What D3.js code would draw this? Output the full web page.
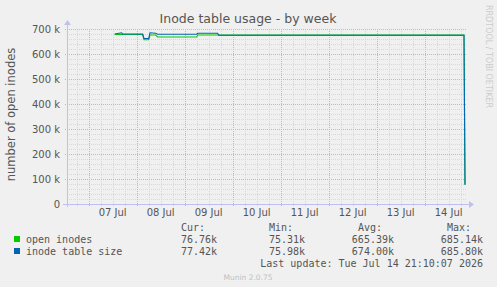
<!DOCTYPE html>
<html>
<head>
<meta charset="utf-8">
<script src="https://cdn.jsdelivr.net/npm/d3@7"></script>
<style>
  body { margin: 0; background: #f0f0f0; }
  svg { display: block; }
</style>
</head>
<body>
<div id="chart"></div>
<script>
// data (times in UTC, values in inodes)
var startTime = "2026-07-06T13:10:00Z", endTime = "2026-07-14T21:10:00Z";
var times = ["2026-07-07T13:00:00Z", "2026-07-07T16:30:00Z", "2026-07-07T17:00:00Z", "2026-07-08T03:00:00Z",
  "2026-07-08T03:40:00Z", "2026-07-08T06:00:00Z", "2026-07-08T06:40:00Z", "2026-07-08T09:30:00Z", "2026-07-08T10:30:00Z",
  "2026-07-09T06:00:00Z", "2026-07-09T06:30:00Z", "2026-07-09T16:30:00Z", "2026-07-09T17:00:00Z",
  "2026-07-14T19:40:00Z", "2026-07-14T20:10:00Z"];
var openInodes = [678000, 679000, 678000, 678000, 657000, 657000, 676000, 676000, 668000,
  668000, 676000, 676000, 675600, 675600, 76760];
var tableSize = [680000, 685000, 680000, 680000, 662000, 662000, 685000, 683000, 679000,
  679000, 683000, 683000, 674800, 674800, 77420];
var yTicks = [0, 100000, 200000, 300000, 400000, 500000, 600000, 700000];
var series = [
  { name: "open inodes", color: "#00cc00", values: openInodes, cur: "76.76k", min: "75.31k", avg: "665.39k", max: "685.14k" },
  { name: "inode table size", color: "#0066b3", values: tableSize, cur: "77.42k", min: "75.98k", avg: "674.00k", max: "685.80k" }
];

var width = 497, height = 287;
var margin = { top: 29, right: 30, bottom: 83, left: 67 };
var pw = width - margin.left - margin.right, ph = height - margin.top - margin.bottom;

var svg = d3.select("#chart").append("svg")
    .attr("width", width).attr("height", height)
    .style("font-family", "'DejaVu Sans', sans-serif");
svg.append("rect").attr("width", width).attr("height", height).attr("fill", "#f0f0f0");

var x = d3.scaleUtc().domain([new Date(startTime), new Date(endTime)]).range([margin.left, margin.left + pw]);
var y = d3.scaleLinear().domain([0, 700000]).range([margin.top + ph, margin.top]);

var g = svg.append("g");

// minor grid
var minorY = d3.range(0, 700001, 20000).filter(function (v) { return v % 100000 !== 0; });
g.selectAll(".my").data(minorY).enter().append("line")
    .attr("x1", margin.left).attr("x2", margin.left + pw)
    .attr("y1", function (d) { return Math.round(y(d)) + 0.5; })
    .attr("y2", function (d) { return Math.round(y(d)) + 0.5; })
    .attr("stroke", "#d8d8d8").attr("stroke-dasharray", "1,1");
var sixHours = d3.utcHour.every(6).range(x.domain()[0], x.domain()[1]).filter(function (d) { return d.getUTCHours() !== 0; });
g.selectAll(".mx").data(sixHours).enter().append("line")
    .attr("y1", margin.top).attr("y2", margin.top + ph + 2)
    .attr("x1", function (d) { return Math.round(x(d)) + 0.5; })
    .attr("x2", function (d) { return Math.round(x(d)) + 0.5; })
    .attr("stroke", "#d8d8d8").attr("stroke-dasharray", "1,1");

// major grid
g.selectAll(".My").data(yTicks.slice(1)).enter().append("line")
    .attr("x1", margin.left - 2).attr("x2", margin.left + pw)
    .attr("y1", function (d) { return Math.round(y(d)) + 0.5; })
    .attr("y2", function (d) { return Math.round(y(d)) + 0.5; })
    .attr("stroke", "#e6a8a8").attr("stroke-dasharray", "1,1");
var days = d3.utcDay.range(x.domain()[0], x.domain()[1]);
g.selectAll(".Mx").data(days).enter().append("line")
    .attr("y1", margin.top).attr("y2", margin.top + ph + 3)
    .attr("x1", function (d) { return Math.round(x(d)) + 0.5; })
    .attr("x2", function (d) { return Math.round(x(d)) + 0.5; })
    .attr("stroke", "#e6a8a8").attr("stroke-dasharray", "1,1");

// axes with arrows
var ax = "#c0c0ee";
svg.append("line").attr("x1", margin.left - 4).attr("x2", margin.left + pw + 2)
    .attr("y1", margin.top + ph + 0.5).attr("y2", margin.top + ph + 0.5).attr("stroke", ax);
svg.append("path").attr("d", "M" + (margin.left + pw + 2) + "," + (margin.top + ph - 3) + "l5,3.5l-5,3.5z").attr("fill", ax);
svg.append("line").attr("x1", margin.left + 0.5).attr("x2", margin.left + 0.5)
    .attr("y1", margin.top + ph + 3).attr("y2", margin.top - 4).attr("stroke", ax);
svg.append("path").attr("d", "M" + (margin.left - 3) + "," + (margin.top - 4) + "l3.5,-5l3.5,5z").attr("fill", ax);

// y labels
svg.selectAll(".yl").data(yTicks).enter().append("text")
    .attr("x", margin.left - 7).attr("y", function (d) { return y(d) + 3.5; })
    .attr("text-anchor", "end").attr("font-size", "10px").attr("fill", "#555")
    .text(function (d) { return d === 0 ? "0" : (d / 1000) + " k"; });

// x labels at noon
var noons = days.map(function (d) { return d3.utcHour.offset(d, 12); });
svg.selectAll(".xl").data(noons).enter().append("text")
    .attr("x", function (d) { return x(d); }).attr("y", margin.top + ph + 12)
    .attr("text-anchor", "middle").attr("font-size", "10px").attr("fill", "#555")
    .text(function (d) { return d3.utcFormat("%d %b")(d); });

// lines
var line = d3.line()
    .x(function (d) { return x(d.t); })
    .y(function (d) { return y(d.v); });
series.forEach(function (s) {
    var pts = times.map(function (t, i) { return { t: new Date(t), v: s.values[i] }; });
    svg.append("path").datum(pts).attr("d", line)
        .attr("fill", "none").attr("stroke", s.color).attr("stroke-width", 1.1);
});

// title & labels
svg.append("text").attr("x", 248).attr("y", 23).attr("text-anchor", "middle")
    .attr("font-size", "12.5px").attr("fill", "#555").text("Inode table usage - by week");
svg.append("text").attr("transform", "translate(15," + (margin.top + ph / 2 - 2) + ") rotate(-90)")
    .attr("text-anchor", "middle").attr("font-size", "11.5px").attr("fill", "#555").text("number of open inodes");
svg.append("text").attr("transform", "translate(486,5) rotate(90)")
    .attr("font-size", "8px").attr("fill", "#cccccc").text("RRDTOOL / TOBI OETIKER");

// legend
var mono = "'DejaVu Sans Mono', monospace";
var cols = [{ k: "cur", h: "Cur:", hx: 181, vx: 217 }, { k: "min", h: "Min:", hx: 269, vx: 305 },
            { k: "avg", h: "Avg:", hx: 358, vx: 394 }, { k: "max", h: "Max:", hx: 447, vx: 483 }];
cols.forEach(function (c) {
    svg.append("text").attr("x", c.hx).attr("y", 231).attr("font-family", mono)
        .attr("font-size", "10px").attr("fill", "#555").text(c.h);
});
series.forEach(function (s, i) {
    var yy = 243 + i * 12;
    svg.append("rect").attr("x", 14).attr("y", yy - 7).attr("width", 6).attr("height", 6).attr("fill", s.color);
    svg.append("text").attr("x", 26).attr("y", yy).attr("font-family", mono)
        .attr("font-size", "10px").attr("fill", "#555").text(s.name);
    cols.forEach(function (c) {
        svg.append("text").attr("x", c.vx).attr("y", yy).attr("text-anchor", "end").attr("font-family", mono)
            .attr("font-size", "10px").attr("fill", "#555").text(s[c.k]);
    });
});
svg.append("text").attr("x", 483).attr("y", 267).attr("text-anchor", "end").attr("font-family", mono)
    .attr("font-size", "10px").attr("fill", "#555").text("Last update: Tue Jul 14 21:10:07 2026");
svg.append("text").attr("x", 248).attr("y", 280).attr("text-anchor", "middle")
    .attr("font-size", "7.5px").attr("fill", "#c0c0c0").text("Munin 2.0.75");
</script>
</body>
</html>
